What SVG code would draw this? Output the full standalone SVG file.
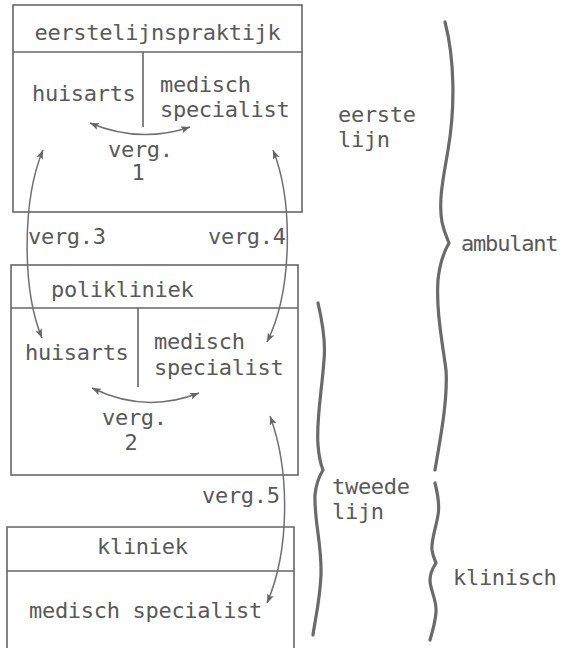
<svg xmlns="http://www.w3.org/2000/svg" width="566" height="648" viewBox="0 0 566 648">
<defs>
<style>
text{font-family:"DejaVu Sans Mono","Liberation Mono",monospace;font-size:22px;fill:#595959;letter-spacing:-0.3px}
.box{fill:none;stroke:#666;stroke-width:1.6}
.arr{fill:none;stroke:#707070;stroke-width:1.5}
.brace{fill:none;stroke:#6a6a6a;stroke-width:3.2;stroke-linecap:round;stroke-linejoin:miter}
</style>
<marker id="ah" markerUnits="userSpaceOnUse" markerWidth="10" markerHeight="8" refX="9" refY="3.5" orient="auto-start-reverse" viewBox="0 0 10 8">
<path d="M0,0 L9,3.5 L0,7 L2,3.5 z" fill="#666"/>
</marker>
</defs>
<rect width="566" height="648" fill="#fff"/>

<g id="eerstelijnspraktijk">
<rect class="box" x="13" y="5" width="289" height="207"/>
<line class="box" x1="13" y1="52" x2="302" y2="52"/>
<line class="box" x1="143" y1="52" x2="143" y2="127"/>
<text x="157.5" y="40" text-anchor="middle">eerstelijnspraktijk</text>
<text x="32" y="101">huisarts</text>
<text x="160" y="92">medisch</text>
<text x="160" y="117">specialist</text>
<text x="108" y="157">verg.</text>
<text x="138" y="180" text-anchor="middle">1</text>
</g>

<g id="polikliniek">
<rect class="box" x="11" y="265" width="287" height="210"/>
<line class="box" x1="11" y1="308" x2="298" y2="308"/>
<line class="box" x1="138" y1="308" x2="138" y2="387"/>
<text x="51" y="297">polikliniek</text>
<text x="25" y="360">huisarts</text>
<text x="154" y="349">medisch</text>
<text x="154" y="375">specialist</text>
<text x="102" y="425">verg.</text>
<text x="131" y="450" text-anchor="middle">2</text>
</g>

<g id="kliniek">
<path class="box" d="M7,650 V527 H294 V650"/>
<line class="box" x1="7" y1="571" x2="294" y2="571"/>
<text x="97" y="554">kliniek</text>
<text x="29" y="618">medisch specialist</text>
</g>

<g id="connectors">
<path class="arr" d="M90,123 Q140,144 190,127" marker-start="url(#ah)" marker-end="url(#ah)"/>
<path class="arr" d="M92,388 Q145,414 199,393" marker-start="url(#ah)" marker-end="url(#ah)"/>
<path class="arr" d="M43,150 C22,200 22,290 42,338" marker-start="url(#ah)" marker-end="url(#ah)"/>
<path class="arr" d="M273,150 C293,200 293,290 267,342" marker-start="url(#ah)" marker-end="url(#ah)"/>
<path class="arr" d="M270,416 C290,470 290,550 267,603" marker-start="url(#ah)" marker-end="url(#ah)"/>
<text x="28" y="244">verg.3</text>
<text x="208" y="244">verg.4</text>
<text x="202" y="503">verg.5</text>
</g>

<g id="labels">
<path class="brace" d="M445,22 C455,60 455,110 448,150 C444,175 438,200 442,222 C444,232 447,238 449,243 C445,250 440,260 438,280 C436,310 442,340 446,370 C448,400 440,440 435,470"/>
<path class="brace" d="M318,303 C322,320 326,340 324,360 C322,390 316,420 318,445 C319,458 321,465 323,470 C318,478 316,485 315,495 C314,520 322,545 321,575 C320,600 315,620 313,635"/>
<path class="brace" d="M435,483 C438,495 440,505 438,515 C436,528 431,540 432,550 C433,557 435,560 436,563 C433,568 430,572 430,580 C430,590 437,600 436,612 C435,625 432,632 430,640"/>
<text x="338" y="122">eerste</text>
<text x="338" y="147">lijn</text>
<text x="461" y="251" style="letter-spacing:-1.2px">ambulant</text>
<text x="332" y="494">tweede</text>
<text x="332" y="519">lijn</text>
<text x="453" y="585">klinisch</text>
</g>
</svg>
